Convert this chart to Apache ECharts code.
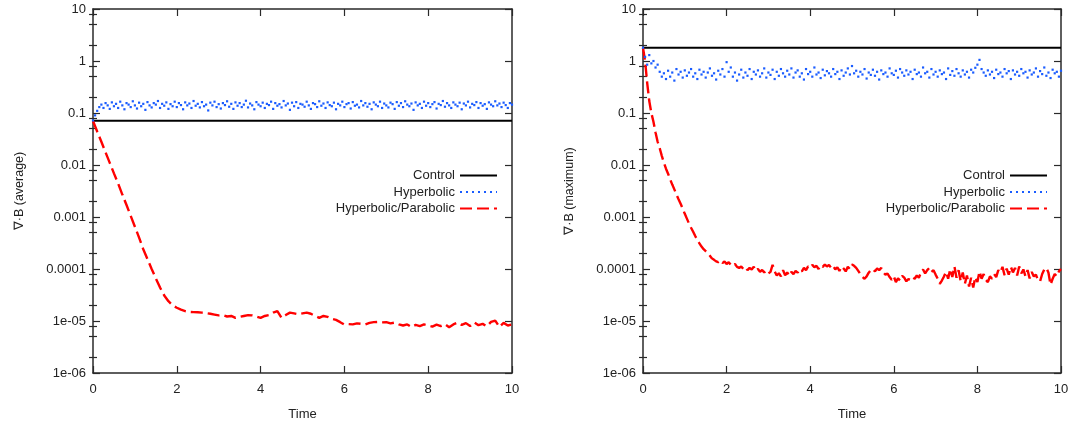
<!DOCTYPE html>
<html>
<head>
<meta charset="utf-8">
<script src="https://cdn.jsdelivr.net/npm/echarts@6/dist/echarts.min.js"></script>
<style>
html,body{margin:0;padding:0;background:#fff;}
#chart{width:1070px;height:423px;}
</style>
</head>
<body>
<div id="chart"></div>
<script>
// ---------- DATA ----------
const seriesNames = ['Control', 'Hyperbolic', 'Hyperbolic/Parabolic'];
const xTicks = [0, 2, 4, 6, 8, 10];
const yMajorTicks = [1e-6, 1e-5, 1e-4, 1e-3, 1e-2, 1e-1, 1, 10];
const yTickLabels = ['1e-06', '1e-05', '0.0001', '0.001', '0.01', '0.1', '1', '10'];
const yMinorTicks = [2e-6,5e-6,8e-6,2e-5,5e-5,8e-5,2e-4,5e-4,8e-4,2e-3,5e-3,8e-3,2e-2,5e-2,8e-2,0.2,0.5,0.8,2,5,8];

// time samples (uniform grids)
const timeStep01 = Array.from({length: 101}, (_, i) => +(i * 0.1).toFixed(2));
const timeStep005 = Array.from({length: 201}, (_, i) => +(i * 0.05).toFixed(2));
const controlTime = [0, 10];

// Left panel: average
const controlAvg = [0.071, 0.071];
const hyperbolicAvg = [
  0.072, 0.09, 0.11, 0.13, 0.145, 0.125, 0.155, 0.14, 0.12, 0.16,
  0.135, 0.15, 0.125, 0.165, 0.14, 0.118, 0.155, 0.145, 0.13, 0.168,
  0.14, 0.122, 0.158, 0.135, 0.15, 0.115, 0.162, 0.14, 0.128, 0.155,
  0.145, 0.17, 0.125, 0.15, 0.138, 0.16, 0.12, 0.148, 0.135, 0.165,
  0.13, 0.155, 0.142, 0.118, 0.16, 0.14, 0.152, 0.125, 0.17, 0.138,
  0.15, 0.128, 0.162, 0.135, 0.145, 0.112, 0.158, 0.14, 0.165, 0.13,
  0.148, 0.122, 0.155, 0.142, 0.168, 0.132, 0.15, 0.12, 0.16, 0.138,
  0.155, 0.13, 0.145, 0.172, 0.128, 0.152, 0.14, 0.118, 0.162, 0.145,
  0.135, 0.158, 0.125, 0.15, 0.142, 0.165, 0.12, 0.155, 0.138, 0.148,
  0.128, 0.17, 0.14, 0.152, 0.115, 0.158, 0.135, 0.162, 0.125, 0.15,
  0.145, 0.132, 0.165, 0.14, 0.12, 0.155, 0.148, 0.13, 0.168, 0.138,
  0.152, 0.125, 0.16, 0.142, 0.135, 0.158, 0.118, 0.15, 0.14, 0.165,
  0.13, 0.148, 0.155, 0.122, 0.162, 0.138, 0.145, 0.128, 0.17, 0.14,
  0.155, 0.132, 0.15, 0.118, 0.16, 0.145, 0.135, 0.165, 0.125, 0.152,
  0.14, 0.128, 0.158, 0.148, 0.12, 0.162, 0.138, 0.155, 0.13, 0.168,
  0.145, 0.135, 0.152, 0.115, 0.16, 0.14, 0.15, 0.125, 0.165, 0.138,
  0.155, 0.13, 0.148, 0.162, 0.122, 0.15, 0.142, 0.17, 0.132, 0.155,
  0.14, 0.125, 0.16, 0.145, 0.135, 0.158, 0.118, 0.152, 0.14, 0.165,
  0.128, 0.15, 0.142, 0.162, 0.125, 0.155, 0.138, 0.148, 0.12, 0.16,
  0.145, 0.135, 0.168, 0.14, 0.152, 0.13, 0.158, 0.142, 0.125, 0.155, 0.145
];
const hypParAvg = [
  0.07, 0.044, 0.028, 0.0175, 0.011, 0.0069, 0.0044, 0.0027, 0.0017, 0.00105,
  6.5e-4, 4.0e-4, 2.4e-4, 1.55e-4, 1.0e-4, 6.6e-5, 4.4e-5, 3.1e-5, 2.4e-5, 2.0e-5,
  1.8e-5, 1.65e-5, 1.55e-5, 1.5e-5, 1.48e-5, 1.47e-5, 1.45e-5, 1.42e-5, 1.38e-5, 1.33e-5,
  1.28e-5, 1.3e-5, 1.22e-5, 1.25e-5, 1.15e-5, 1.2e-5, 1.25e-5, 1.3e-5, 1.28e-5, 1.22e-5,
  1.15e-5, 1.25e-5, 1.3e-5, 1.45e-5, 1.55e-5, 1.15e-5, 1.3e-5, 1.45e-5, 1.4e-5, 1.35e-5,
  1.4e-5, 1.45e-5, 1.38e-5, 1.25e-5, 1.15e-5, 1.25e-5, 1.2e-5, 1.1e-5, 1.05e-5, 9.5e-6,
  8.5e-6, 8.7e-6, 8.6e-6, 9.0e-6, 8.8e-6, 8.6e-6, 9.2e-6, 9.5e-6, 9.6e-6, 9.4e-6,
  9.5e-6, 9.0e-6, 9.3e-6, 8.6e-6, 8.2e-6, 8.6e-6, 7.7e-6, 8.4e-6, 8.0e-6, 8.6e-6,
  8.2e-6, 7.8e-6, 8.5e-6, 8.0e-6, 8.7e-6, 7.6e-6, 8.6e-6, 9.3e-6, 8.4e-6, 9.1e-6,
  8.0e-6, 9.4e-6, 8.3e-6, 8.8e-6, 7.9e-6, 9.6e-6, 1.02e-5, 7.7e-6, 9.2e-6, 8.2e-6, 8.6e-6
];

// Right panel: maximum
const controlMax = [1.8, 1.8];
const hyperbolicMax = [
  1.8, 1.2, 0.85, 1.3, 0.9, 1.0, 0.75, 0.85, 0.62, 0.5,
  0.58, 0.45, 0.65, 0.5, 0.6, 0.42, 0.7, 0.55, 0.62, 0.48,
  0.66, 0.52, 0.6, 0.7, 0.5, 0.58, 0.45, 0.68, 0.55, 0.62,
  0.48, 0.6, 0.72, 0.52, 0.58, 0.44, 0.65, 0.55, 0.7, 0.5,
  0.95, 0.62, 0.75, 0.5, 0.6, 0.42, 0.55, 0.68, 0.48, 0.6,
  0.52, 0.7, 0.45, 0.62, 0.55, 0.66, 0.5, 0.58, 0.72, 0.48,
  0.6, 0.54, 0.68, 0.45, 0.62, 0.52, 0.7, 0.58, 0.5, 0.65,
  0.55, 0.72, 0.48, 0.6, 0.66, 0.5, 0.58, 0.44, 0.7, 0.56,
  0.62, 0.5, 0.75, 0.55, 0.6, 0.47, 0.68, 0.53, 0.64, 0.58,
  0.5, 0.7, 0.56, 0.62, 0.45, 0.66, 0.52, 0.6, 0.72, 0.55,
  0.8, 0.58, 0.65, 0.5, 0.62, 0.55, 0.7, 0.46, 0.6, 0.54,
  0.68, 0.52, 0.62, 0.44, 0.66, 0.56, 0.6, 0.5, 0.72, 0.58,
  0.54, 0.65, 0.48, 0.7, 0.6, 0.52, 0.66, 0.55, 0.62, 0.45,
  0.68, 0.56, 0.6, 0.5, 0.75, 0.58, 0.62, 0.48, 0.7, 0.55,
  0.62, 0.5, 0.66, 0.56, 0.6, 0.45, 0.72, 0.54, 0.64, 0.52,
  0.7, 0.58, 0.5, 0.66, 0.55, 0.62, 0.48, 0.68, 0.6, 0.74,
  0.85, 1.05, 0.7, 0.6, 0.52, 0.66, 0.55, 0.62, 0.47, 0.68,
  0.56, 0.6, 0.5, 0.7, 0.58, 0.64, 0.45, 0.66, 0.55, 0.62,
  0.52, 0.7, 0.58, 0.62, 0.48, 0.66, 0.55, 0.6, 0.72, 0.5,
  0.64, 0.56, 0.75, 0.52, 0.6, 0.47, 0.68, 0.58, 0.62, 0.5, 0.65
];
const hypParMax = [
  1.8, 1.0, 0.38, 0.17, 0.1, 0.068, 0.042, 0.028, 0.021, 0.015,
  0.011, 0.0085, 0.0068, 0.0053, 0.0042, 0.0034, 0.0027, 0.0022, 0.0018, 0.00145,
  0.00115, 9.3e-4, 7.5e-4, 6.2e-4, 5.2e-4, 4.3e-4, 3.6e-4, 3.1e-4, 2.7e-4, 2.4e-4,
  2.2e-4, 2.0e-4, 1.8e-4, 1.6e-4, 1.5e-4, 1.4e-4, 1.35e-4, 1.45e-4, 1.3e-4, 1.4e-4,
  1.25e-4, 1.35e-4, 1.2e-4, 1.15e-4, 1.25e-4, 1.1e-4, 1.05e-4, 1.12e-4, 1.0e-4, 1.08e-4,
  9.5e-5, 1.05e-4, 9.8e-5, 1.1e-4, 9.2e-5, 1.0e-4, 8.8e-5, 9.6e-5, 8.6e-5, 9.3e-5,
  8.2e-5, 8.8e-5, 1.2e-4, 9.0e-5, 7.5e-5, 8.3e-5, 7.2e-5, 9.5e-5, 7.6e-5, 8.6e-5,
  7.4e-5, 8.8e-5, 8.0e-5, 9.2e-5, 8.5e-5, 9.8e-5, 9.0e-5, 1.05e-4, 9.5e-5, 1.12e-4,
  1.05e-4, 1.2e-4, 1.08e-4, 1.15e-4, 1.0e-4, 1.18e-4, 1.1e-4, 1.22e-4, 1.12e-4, 1.2e-4,
  1.05e-4, 1.15e-4, 9.8e-5, 1.08e-4, 9.2e-5, 1.12e-4, 1.02e-4, 9.0e-5, 1.1e-4, 1.0e-4,
  1.22e-4, 1.15e-4, 1.05e-4, 9.2e-5, 8.0e-5, 7.0e-5, 6.5e-5, 7.2e-5, 8.5e-5, 9.5e-5,
  1.0e-4, 9.0e-5, 1.02e-4, 9.5e-5, 1.05e-4, 8.6e-5, 7.8e-5, 8.2e-5, 7.0e-5, 6.2e-5,
  7.2e-5, 5.6e-5, 6.6e-5, 6.0e-5, 7.4e-5, 6.8e-5, 5.8e-5, 6.4e-5, 6.2e-5, 7.0e-5,
  6.5e-5, 7.5e-5, 6.8e-5, 8.5e-5, 9.8e-5, 8.2e-5, 9.5e-5, 1.05e-4, 8.8e-5, 9.5e-5,
  7.8e-5, 6.5e-5, 5.2e-5, 6.0e-5, 7.2e-5, 8.8e-5, 6.5e-5, 1.0e-4, 7.0e-5, 1.12e-4,
  6.8e-5, 9.5e-5, 5.8e-5, 8.6e-5, 5.2e-5, 7.5e-5, 4.6e-5, 6.8e-5, 4.4e-5, 7.0e-5,
  5.6e-5, 9.0e-5, 6.5e-5, 8.0e-5, 6.2e-5, 5.6e-5, 7.2e-5, 6.5e-5, 8.0e-5, 7.0e-5,
  9.5e-5, 8.5e-5, 1.1e-4, 7.6e-5, 1.02e-4, 7.8e-5, 1.1e-4, 8.6e-5, 1.05e-4, 7.5e-5,
  1.12e-4, 8.2e-5, 9.8e-5, 7.2e-5, 9.5e-5, 6.6e-5, 8.8e-5, 7.2e-5, 7.8e-5, 6.0e-5,
  5.8e-5, 8.0e-5, 9.8e-5, 1.05e-4, 8.5e-5, 5.0e-5, 6.5e-5, 8.0e-5, 7.2e-5, 9.0e-5, 1.0e-4
];

// ---------- CHART ----------
const FONT = 'Liberation Sans, Arial, sans-serif';
const TXT = '#222';
const AX = '#2a2a2a';
const colors = { control: '#000000', hyp: '#1a5cff', hp: '#ff0000' };

function pairs(t, v) { return v.map((y, i) => [t[i], y]); }

const grids = [
  { left: 93, top: 9, width: 419, height: 364, outerBoundsMode: 'none', containLabel: false },
  { left: 643, top: 9, width: 418, height: 364, outerBoundsMode: 'none', containLabel: false }
];

const xAxes = [];
const yAxes = [];
const yNames = ['\u2207\u00b7B (average)', '\u2207\u00b7B (maximum)'];

for (let g = 0; g < 2; g++) {
  xAxes.push({
    type: 'value', gridIndex: g, position: 'bottom', min: 0, max: 10, interval: 2,
    name: 'Time', nameLocation: 'middle', nameGap: 35,
    nameTextStyle: { fontFamily: FONT, fontSize: 13, color: TXT },
    axisLine: { show: true, onZero: false, lineStyle: { color: AX, width: 1.5 } },
    axisTick: { show: true, inside: true, length: 7, lineStyle: { color: AX, width: 1.2 } },
    axisLabel: { show: true, margin: 10, fontFamily: FONT, fontSize: 13, color: TXT,
      customValues: xTicks },
    splitLine: { show: false }
  });
  xAxes.push({
    type: 'value', gridIndex: g, position: 'top', min: 0, max: 10, interval: 2,
    axisLine: { show: true, onZero: false, lineStyle: { color: AX, width: 1.5 } },
    axisTick: { show: true, inside: true, length: 7, lineStyle: { color: AX, width: 1.2 } },
    axisLabel: { show: false },
    splitLine: { show: false }
  });
  yAxes.push({
    type: 'log', logBase: 10, gridIndex: g, position: 'left', min: 1e-6, max: 10,
    name: yNames[g], nameLocation: 'middle', nameGap: 67, nameRotate: 90,
    nameTextStyle: { fontFamily: FONT, fontSize: 12.5, color: TXT },
    axisLine: { show: true, onZero: false, lineStyle: { color: AX, width: 1.5 } },
    axisTick: { show: true, inside: true, length: 7, customValues: yMajorTicks, lineStyle: { color: AX, width: 1.2 } },
    axisLabel: { show: true, margin: 7, fontFamily: FONT, fontSize: 13, color: TXT,
      customValues: yMajorTicks,
      formatter: v => yTickLabels[Math.round(Math.log10(v)) + 6] },
    splitLine: { show: false }, minorTick: { show: false }
  });
  yAxes.push({
    type: 'log', logBase: 10, gridIndex: g, position: 'right', min: 1e-6, max: 10,
    axisLine: { show: true, onZero: false, lineStyle: { color: AX, width: 1.5 } },
    axisTick: { show: true, inside: true, length: 7, customValues: yMajorTicks, lineStyle: { color: AX, width: 1.2 } },
    axisLabel: { show: false },
    splitLine: { show: false }, minorTick: { show: false }
  });
  ['left', 'right'].forEach(pos => {
    yAxes.push({
      type: 'log', logBase: 10, gridIndex: g, position: pos, min: 1e-6, max: 10,
      axisLine: { show: false },
      axisTick: { show: true, inside: true, length: 4, customValues: yMinorTicks, lineStyle: { color: AX, width: 1.2 } },
      axisLabel: { show: false },
      splitLine: { show: false }, minorTick: { show: false }
    });
  });
}

function mk(name, g, t, v, color, type, width) {
  return {
    name, type: 'line', xAxisIndex: g * 2, yAxisIndex: g * 4,
    data: pairs(t, v), symbol: 'none', showSymbol: false, animation: false,
    lineStyle: { color, width, type, cap: 'butt' },
    itemStyle: { color }, z: 3
  };
}

// dotted series: each sample drawn as a small dot (gnuplot dotted look); line hidden in plot
function mkDots(name, g, t, v, color) {
  return {
    name, type: 'line', xAxisIndex: g * 2, yAxisIndex: g * 4,
    data: pairs(t, v), symbol: 'rect', symbolSize: 2.2, showSymbol: true, showAllSymbol: true,
    animation: false, silent: true,
    lineStyle: { color, width: 2.2, type: [2, 4], opacity: 0 },
    itemStyle: { color, borderWidth: 0 }, z: 3
  };
}

const series = [
  mk('Control', 0, controlTime, controlAvg, colors.control, 'solid', 1.8),
  mkDots('Hyperbolic', 0, timeStep005, hyperbolicAvg, colors.hyp),
  mk('Hyperbolic/Parabolic', 0, timeStep01, hypParAvg, colors.hp, [12, 5], 2.4),
  mk('Control', 1, controlTime, controlMax, colors.control, 'solid', 1.8),
  mkDots('Hyperbolic', 1, timeStep005, hyperbolicMax, colors.hyp),
  mk('Hyperbolic/Parabolic', 1, timeStep005, hypParMax, colors.hp, [12, 5], 2.4)
];

function legend(right) {
  return {
    orient: 'vertical', align: 'right', right, top: 169, padding: 0,
    itemWidth: 37, itemHeight: 10, itemGap: 3.5,
    itemStyle: { opacity: 0 },
    lineStyle: { opacity: 1 },
    textStyle: { fontFamily: FONT, fontSize: 13, color: TXT },
    data: seriesNames, selectedMode: false
  };
}

const chart = echarts.init(document.getElementById('chart'), null, { renderer: 'canvas' });
chart.setOption({
  animation: false,
  backgroundColor: '#ffffff',
  grid: grids,
  xAxis: xAxes,
  yAxis: yAxes,
  legend: [legend(1070 - 498), legend(1070 - 1048)],
  series
});
</script>
</body>
</html>
